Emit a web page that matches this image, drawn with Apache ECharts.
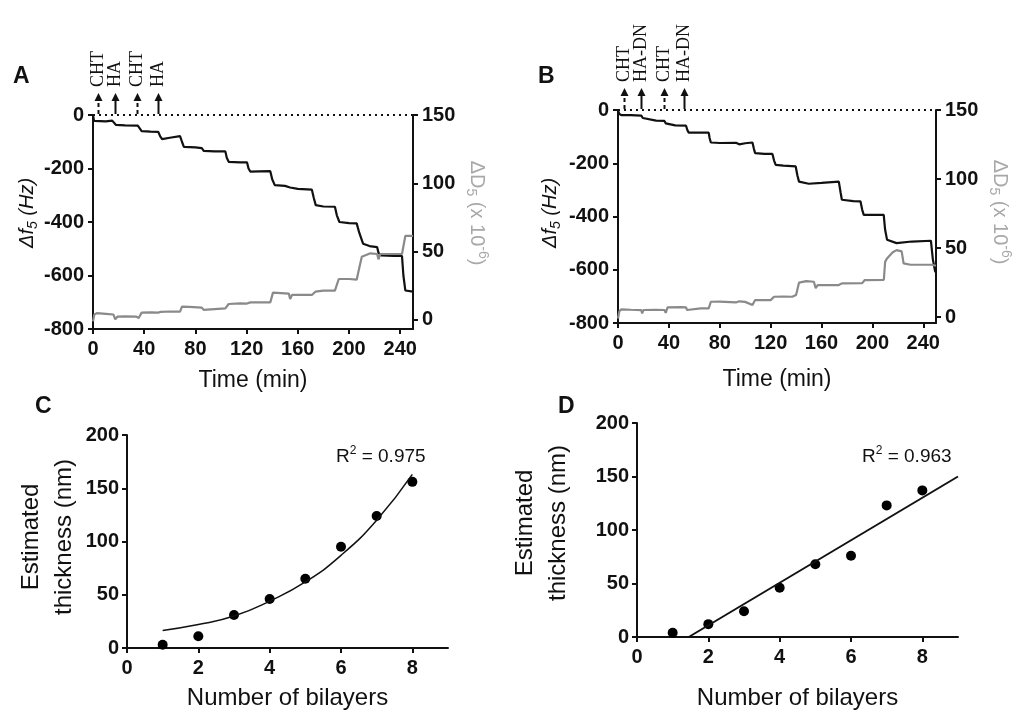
<!DOCTYPE html>
<html><head><meta charset="utf-8">
<script src="https://cdn.jsdelivr.net/npm/echarts@6/dist/echarts.min.js"></script>
<style>html,body{margin:0;padding:0;background:#fff}#c{width:1022px;height:712px}</style>
</head><body><div id="c"></div>
<script>
// ---------- DATA ----------
const timeTicks = [0, 40, 80, 120, 160, 200, 240];
const dissTicks = [0, 50, 100, 150];
const bilayerTicks = [0, 2, 4, 6, 8];

// Panel A: QCM-D, CHT / HA
const traceA_freq = [[0,0],[0.8,-22],[2,-25],[10,-24],[15,-21],[16.5,-25],[18,-37],[25,-39],[35,-40],[36.5,-50],[38,-60],[45,-62],[51,-63],[52.5,-80],[54,-90],[60,-85],[68,-79],[69.5,-100],[71,-119],[80,-121],[85,-124],[86.5,-134],[95,-136],[103.4,-136],[104.5,-160],[106,-175],[115,-177],[120.3,-177],[121.5,-200],[123,-212],[130,-211],[138.5,-210],[140,-240],[142,-262],[150,-265],[154,-271],[160,-276],[171,-279],[172.5,-310],[174,-337],[180,-342],[189,-343],[190.5,-375],[192.5,-400],[200,-404],[206,-405],[208,-440],[211,-481],[216,-490],[222,-494],[223,-515],[225,-525],[235,-527],[241.4,-527],[242.5,-600],[244,-656],[250,-660]];
const traceA_diss = [[0,-1],[1,4],[3,5],[10,4.5],[16,4],[17.4,0.5],[19,2.4],[25,2.6],[34,2.4],[35.7,1.5],[38,5.4],[45,5.5],[51,5.4],[53,6],[60,6.2],[68,6.1],[69.5,9.8],[75,9.6],[85,9],[86.5,7.4],[88,8.5],[103.4,8.5],[106,11.7],[115,12.2],[120.3,12],[121.6,11],[123,12.9],[138.5,12.9],[140.6,20],[150,19.5],[153,19.3],[154,15.4],[155.5,18.3],[171,18.3],[173.7,20.7],[180,21.5],[189,21.5],[192,30],[200,30],[206,29.5],[208,38],[210,46.3],[216.7,48.8],[222,48.3],[223,44.4],[224.5,48.3],[241.4,48.3],[244,61.5],[250,61.5]];
const injectionsA = [{t:3.7,label:'CHT',dashed:true},{t:17.2,label:'HA',dashed:false},{t:34.1,label:'CHT',dashed:true},{t:51.0,label:'HA',dashed:false}];

// Panel B: QCM-D, CHT / HA-DN
const traceB_freq = [[0,0],[1,-15],[2.6,-19],[10,-19],[18.3,-21],[19.5,-30],[21,-37.5],[30,-40],[36.5,-41],[37.5,-50],[38.4,-56],[45,-58],[53.5,-59],[54.5,-75],[55.6,-85],[65,-85],[71.3,-85],[72,-105],[73,-122],[80,-124],[92.7,-123],[95.3,-129],[100,-125],[105.7,-122],[106.8,-145],[107.8,-162],[115,-165],[121.4,-165],[122.7,-190],[124,-206],[130,-209],[139.7,-212],[141,-245],[142.3,-269],[150,-277],[160,-274],[173.6,-269],[175,-310],[176,-337],[185,-342],[190.6,-343],[192,-375],[193.2,-394],[200,-394],[208.9,-394],[210,-450],[211.5,-487],[219,-500],[231,-494],[246,-491],[247.5,-560],[249.3,-606],[250,-610]];
const traceB_diss = [[0,-1],[1,4],[2.6,5.6],[10,5.3],[18.3,5],[19,2.7],[20,5.1],[30,5.3],[36.5,5.1],[37.5,3.1],[39,7],[50,7.2],[53.5,7],[54.3,5.1],[55.6,6.3],[65,6.3],[71.3,6.3],[73,11.1],[80,11.2],[92.7,10.6],[95.3,11.4],[100,11],[105.7,8.7],[107.8,12.3],[120,12.3],[122.7,14.7],[130,14.8],[137,14.7],[140,16],[142.3,24.9],[148,26],[154,25.6],[155.4,20.9],[157,23.2],[173.6,23.2],[176,24.4],[192,24.6],[194,26.8],[209,27],[210,40],[211.5,42.5],[216,47],[219,48.5],[223,47.6],[224,42],[224.5,38.9],[230,37.9],[246.7,37.9],[250,37.2]];
const injectionsB = [{t:4.7,label:'CHT',dashed:true},{t:17.8,label:'HA-DN',dashed:false},{t:36.2,label:'CHT',dashed:true},{t:52.0,label:'HA-DN',dashed:false}];

// Panels C and D: estimated thickness
const bilayers = [1, 2, 3, 4, 5, 6, 7, 8];
const thicknessC = [3, 11, 31, 46, 65, 95, 124, 156];
const fitC = [[1,16.5],[2,22],[3,30],[4,44],[5,62],[6,87],[7,120],[8,163]];
const thicknessD = [4, 12, 24, 46, 68, 76, 123, 137];
const fitD = [[1.45,0],[9,150]];
const r2C = '0.975', r2D = '0.963';

// ---------- STYLE ----------
const FONT = "'Liberation Sans', Arial, sans-serif";
const SERIF = "'Liberation Serif', 'Times New Roman', serif";
const INK = '#111';
const GRAYLINE = '#8a8a8a';
const GRAYTEXT = '#a8a8a8';

function axisCommon(extra) {
  const a = {
    type: 'value',
    axisLine: {show: true, onZero: false, lineStyle: {color: INK, width: 2}},
    axisTick: {show: true, length: 5, lineStyle: {color: INK, width: 2}},
    axisLabel: {color: INK, fontFamily: FONT, fontWeight: 'bold', fontSize: 20, margin: 9},
    splitLine: {show: false}
  };
  for (const k in extra) {
    if (typeof extra[k] === 'object' && !Array.isArray(extra[k]) && a[k]) a[k] = Object.assign({}, a[k], extra[k]);
    else a[k] = extra[k];
  }
  return a;
}

const richAxisF = {
  i: {fontFamily: FONT, fontStyle: 'italic', fontSize: 20, lineHeight: 26, color: INK},
  s: {fontFamily: FONT, fontStyle: 'italic', fontSize: 14, lineHeight: 14, verticalAlign: 'bottom', color: INK}
};
const richAxisD = {
  g: {fontFamily: FONT, fontSize: 20, lineHeight: 26, color: GRAYTEXT},
  s: {fontFamily: FONT, fontSize: 14, lineHeight: 14, verticalAlign: 'bottom', color: GRAYTEXT},
  p: {fontFamily: FONT, fontSize: 14, lineHeight: 14, verticalAlign: 'top', color: GRAYTEXT}
};
const fName = '{i|Δf}{s|5}{i| (Hz)}';
const dName = '{g|ΔD}{s|5}{g| (x 10}{p|-6}{g|)}';

const option = {
  animation: false,
  backgroundColor: '#fff',
  grid: [
    {left: 93, top: 115, width: 320, height: 214},
    {left: 618, top: 110, width: 318, height: 213},
    {left: 127, top: 435, width: 321, height: 213},
    {left: 637, top: 423, width: 321, height: 214}
  ],
  xAxis: [
    axisCommon({gridIndex: 0, min: 0, max: 250, axisTick: {customValues: timeTicks}, axisLabel: {customValues: timeTicks, margin: 10},
      name: 'Time (min)', nameLocation: 'middle', nameGap: 40, nameTextStyle: {color: INK, fontFamily: FONT, fontSize: 23}}),
    axisCommon({gridIndex: 1, min: 0, max: 250, axisTick: {customValues: timeTicks}, axisLabel: {customValues: timeTicks, margin: 10},
      name: 'Time (min)', nameLocation: 'middle', nameGap: 45, nameTextStyle: {color: INK, fontFamily: FONT, fontSize: 23}}),
    axisCommon({gridIndex: 2, min: 0, max: 9, axisTick: {customValues: bilayerTicks}, axisLabel: {customValues: bilayerTicks, margin: 10},
      name: 'Number of bilayers', nameLocation: 'middle', nameGap: 38, nameTextStyle: {color: INK, fontFamily: FONT, fontSize: 24}}),
    axisCommon({gridIndex: 3, min: 0, max: 9, axisTick: {customValues: bilayerTicks}, axisLabel: {customValues: bilayerTicks, margin: 10},
      name: 'Number of bilayers', nameLocation: 'middle', nameGap: 49, nameTextStyle: {color: INK, fontFamily: FONT, fontSize: 24}})
  ],
  yAxis: [
    axisCommon({gridIndex: 0, min: -800, max: 0, interval: 200, axisLabel: {margin: 9},
      name: fName, nameLocation: 'middle', nameRotate: 90, nameGap: 50, nameTextStyle: {rich: richAxisF, padding: [0, 0, 0, 18]}}),
    axisCommon({gridIndex: 0, position: 'right', min: -6.6, max: 150, axisTick: {customValues: dissTicks}, axisLabel: {customValues: dissTicks, margin: 9},
      name: dName, nameLocation: 'middle', nameRotate: -90, nameGap: 51, nameTextStyle: {rich: richAxisD, padding: [0, 18, 0, 0]}}),
    axisCommon({gridIndex: 1, min: -800, max: 0, interval: 200, axisLabel: {margin: 9},
      name: fName, nameLocation: 'middle', nameRotate: 90, nameGap: 55, nameTextStyle: {rich: richAxisF, padding: [0, 0, 0, 7]}}),
    axisCommon({gridIndex: 1, position: 'right', min: -4.3, max: 150, axisTick: {customValues: dissTicks}, axisLabel: {customValues: dissTicks, margin: 9},
      name: dName, nameLocation: 'middle', nameRotate: -90, nameGap: 51, nameTextStyle: {rich: richAxisD, padding: [0, 9, 0, 0]}}),
    axisCommon({gridIndex: 2, min: 0, max: 200, interval: 50, axisLabel: {margin: 8},
      name: 'Estimated\nthickness (nm)', nameLocation: 'middle', nameRotate: 90, nameGap: 46,
      nameTextStyle: {color: INK, fontFamily: FONT, fontSize: 24, lineHeight: 33, padding: [0, 0, 0, 9]}}),
    axisCommon({gridIndex: 3, min: 0, max: 200, interval: 50, axisLabel: {margin: 8},
      name: 'Estimated\nthickness (nm)', nameLocation: 'middle', nameRotate: 90, nameGap: 62,
      nameTextStyle: {color: INK, fontFamily: FONT, fontSize: 24, lineHeight: 33, padding: [0, 0, 0, 14]}})
  ],
  series: [
    {type: 'line', name: 'A Δf', xAxisIndex: 0, yAxisIndex: 0, data: traceA_freq, showSymbol: false, lineStyle: {color: INK, width: 2.2}, itemStyle: {color: INK},
      markLine: {silent: true, symbol: ['none', 'none'], label: {show: false}, lineStyle: {type: [2, 4], color: INK, width: 2}, data: [{yAxis: 0}]}},
    {type: 'line', name: 'A ΔD', xAxisIndex: 0, yAxisIndex: 1, data: traceA_diss, showSymbol: false, lineStyle: {color: GRAYLINE, width: 2.2}, itemStyle: {color: GRAYLINE}},
    {type: 'line', name: 'B Δf', xAxisIndex: 1, yAxisIndex: 2, data: traceB_freq, showSymbol: false, lineStyle: {color: INK, width: 2.2}, itemStyle: {color: INK},
      markLine: {silent: true, symbol: ['none', 'none'], label: {show: false}, lineStyle: {type: [2, 4], color: INK, width: 2}, data: [{yAxis: 0}]}},
    {type: 'line', name: 'B ΔD', xAxisIndex: 1, yAxisIndex: 3, data: traceB_diss, showSymbol: false, lineStyle: {color: GRAYLINE, width: 2.2}, itemStyle: {color: GRAYLINE}},
    {type: 'scatter', name: 'C', xAxisIndex: 2, yAxisIndex: 4, data: bilayers.map((b, i) => [b, thicknessC[i]]), symbolSize: 10, itemStyle: {color: '#000', opacity: 1}},
    {type: 'line', name: 'C fit', xAxisIndex: 2, yAxisIndex: 4, data: fitC, smooth: true, showSymbol: false, lineStyle: {color: INK, width: 1.5}},
    {type: 'scatter', name: 'D', xAxisIndex: 3, yAxisIndex: 5, data: bilayers.map((b, i) => [b, thicknessD[i]]), symbolSize: 10, itemStyle: {color: '#000', opacity: 1}},
    {type: 'line', name: 'D fit', xAxisIndex: 3, yAxisIndex: 5, data: fitD, showSymbol: false, lineStyle: {color: INK, width: 2}}
  ]
};

const chart = echarts.init(document.getElementById('c'));
chart.setOption(option);

// ---------- ANNOTATIONS ----------
const graphics = [];
function letter(text, x, y) {
  graphics.push({type: 'text', left: x, top: y, style: {text, fontFamily: FONT, fontWeight: 'bold', fontSize: 23, fill: INK}});
}
letter('A', 13, 65); letter('B', 538, 65); letter('C', 35, 395); letter('D', 558, 395);

function r2(text, x, y) {
  graphics.push({type: 'text', x, y, style: {
    text: '{a|R}{p|2}{a| = ' + text + '}',
    textVerticalAlign: 'middle',
    rich: {a: {fontFamily: FONT, fontSize: 19, lineHeight: 24, fill: INK, color: INK},
           p: {fontFamily: FONT, fontSize: 12, lineHeight: 12, verticalAlign: 'top', fill: INK, color: INK}}
  }});
}
r2(r2C, 336, 457); r2(r2D, 862, 457);

function arrows(list, xIdx, yIdx, textGap) {
  list.forEach(a => {
    const p = chart.convertToPixel({xAxisIndex: xIdx, yAxisIndex: yIdx}, [a.t, 0]);
    const x = Math.round(p[0]) + 0.5, y0 = p[1] - 1, tip = p[1] - 22;
    graphics.push({type: 'line', shape: {x1: x, y1: y0, x2: x, y2: tip + 5},
      style: {stroke: INK, lineWidth: 2, lineDash: a.dashed ? [4, 3] : null}});
    graphics.push({type: 'polygon', shape: {points: [[x, tip], [x - 4, tip + 8], [x + 4, tip + 8]]}, style: {fill: INK}});
    graphics.push({type: 'text', x: x, y: tip - textGap, rotation: Math.PI / 2,
      style: {text: a.label, fontFamily: SERIF, fontSize: 18, fill: INK, textAlign: 'left', textVerticalAlign: 'middle'}});
  });
}
arrows(injectionsA, 0, 0, 6);
arrows(injectionsB, 1, 2, 6);

chart.setOption({graphic: graphics});
</script>
</body></html>
